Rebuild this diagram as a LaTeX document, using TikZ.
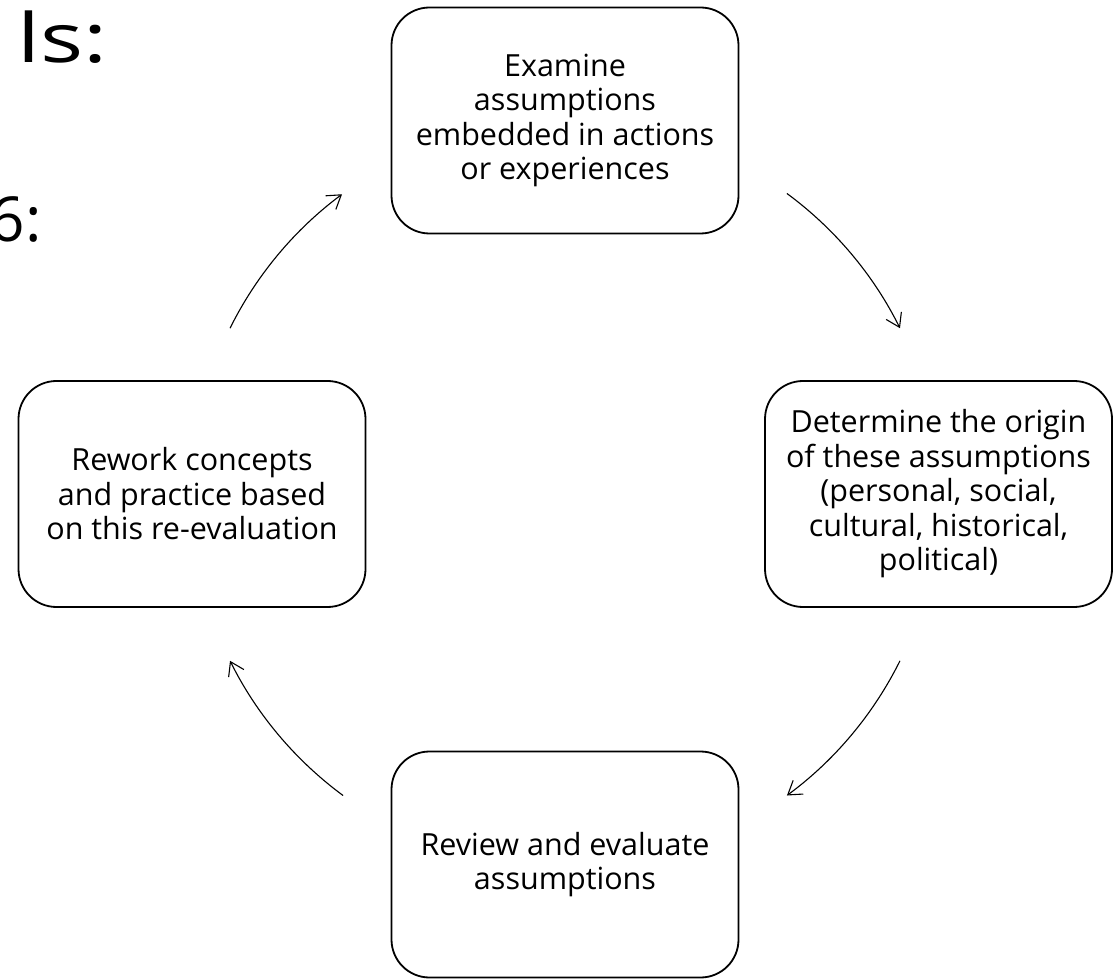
\documentclass[tikz,border=0pt]{standalone}
\usepackage{fontspec}
\usepackage{graphicx}
\setmainfont{Open Sans}
\usetikzlibrary{arrows.meta}
\begin{document}
\begin{tikzpicture}[x=1pt,y=1pt,
  stagebox/.style={draw=black,line width=1.8pt,fill=white,rounded corners=38pt,
    minimum width=347pt,minimum height=226pt,align=center,inner sep=0pt,
    font=\fontsize{30.5}{34.5}\selectfont},
  cyclearrow/.style={line width=1.1pt,-{Straight Barb[length=13pt,width=17pt,line width=1.1pt]}},
  bigtext/.style={inner sep=0pt,text=black}]
\useasboundingbox (0,0) rectangle (1115,978);
\clip (0,0) rectangle (1115,978);
\node[bigtext,anchor=base west,font=\fontsize{68}{80}\selectfont] (title) at (17.5,915) {\scalebox{1.33}[1]{ls:}};
\node[bigtext,anchor=base east,font=\fontsize{62}{70}\selectfont] (sub) at (42,736) {6:};
\coordinate (c) at (565,483.5);
\node[stagebox] (top) at (565,857.5) {Examine\\assumptions\\embedded in actions\\or experiences};
\node[stagebox] (right) at (938.5,484) {Determine the origin\\of these assumptions\\(personal, social,\\cultural, historical,\\political)};
\node[stagebox] (bottom) at (565,113.5) {Review and evaluate\\assumptions};
\node[stagebox] (left) at (192,484) {Rework concepts\\and practice based\\on this re-evaluation};
\draw[cyclearrow] ([shift={(153.6:374)}]c) arc[start angle=153.6,end angle=126.6,radius=374];
\draw[cyclearrow] ([shift={(53.6:374)}]c) arc[start angle=53.6,end angle=26.4,radius=374];
\draw[cyclearrow] ([shift={(-26.4:374)}]c) arc[start angle=-26.4,end angle=-53.6,radius=374];
\draw[cyclearrow] ([shift={(-126.4:374)}]c) arc[start angle=-126.4,end angle=-153.6,radius=374];
\end{tikzpicture}
\end{document}
